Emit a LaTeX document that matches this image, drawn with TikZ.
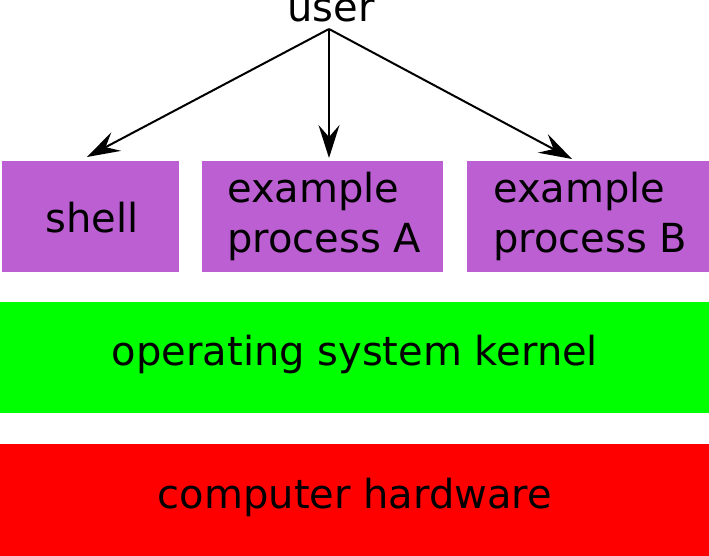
\documentclass[tikz,border=0pt]{standalone}
\usepackage{fontspec}
\setmainfont{DejaVu Sans}
\usetikzlibrary{arrows.meta}
\definecolor{procpurple}{RGB}{188,95,211}
\definecolor{kgreen}{RGB}{0,255,0}
\definecolor{hred}{RGB}{255,0,0}
\tikzset{
  layerbox/.style={draw=none, inner sep=0pt, anchor=north west},
  lbl/.style={inner sep=0pt, font=\fontsize{40}{49}\selectfont, text=black},
  arr/.style={line width=2pt, -{Stealth[length=33pt, width=21pt, inset=12pt]}},
}
\begin{document}
\begin{tikzpicture}[x=1pt,y=-1pt]
\useasboundingbox (0,0) rectangle (709,556);
\node[layerbox, fill=procpurple, minimum width=177pt, minimum height=111pt] (shell) at (2,161) {};
\node[layerbox, fill=procpurple, minimum width=241pt, minimum height=111pt] (procA) at (202,161) {};
\node[layerbox, fill=procpurple, minimum width=242pt, minimum height=111pt] (procB) at (467,161) {};
\node[layerbox, fill=kgreen, minimum width=709pt, minimum height=111pt] (kernel) at (0,302) {};
\node[layerbox, fill=hred, minimum width=709pt, minimum height=112pt] (hw) at (0,444) {};
\node[lbl, anchor=base] (tshell) at (92,232) {shell};
\node[lbl, anchor=base west, align=left] (tA1) at (227,203) {example};
\node[lbl, anchor=base west, align=left] (tA2) at (227,252) {process A};
\node[lbl, anchor=base west, align=left] (tB1) at (493,203) {example};
\node[lbl, anchor=base west, align=left] (tB2) at (493,252) {process B};
\node[lbl, anchor=base] (tkernel) at (355,365) {operating system kernel};
\node[lbl, anchor=base] (thw) at (355,508) {computer hardware};
\node[lbl, anchor=base] (user) at (331,22) {user};
\coordinate (src) at (329,29);
\coordinate (eShell) at (87,157);
\coordinate (eA) at (329,158);
\coordinate (eB) at (572,159);
\draw[arr] (src) -- (eShell);
\draw[arr] (src) -- (eA);
\draw[arr] (src) -- (eB);
\end{tikzpicture}
\end{document}
